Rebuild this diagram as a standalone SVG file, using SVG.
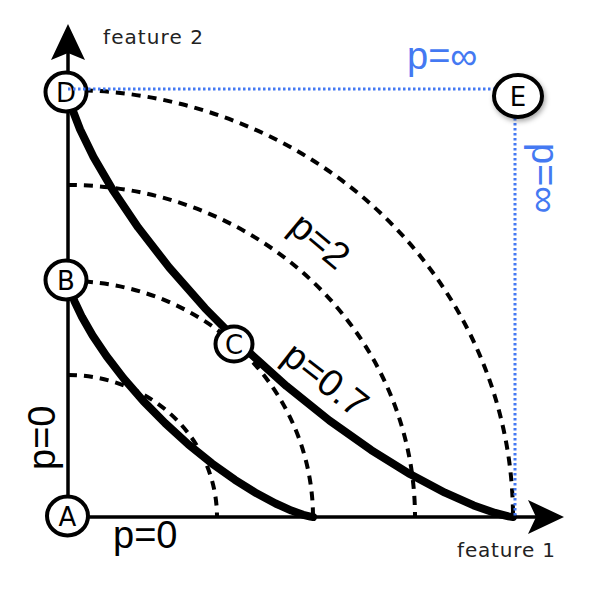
<svg xmlns="http://www.w3.org/2000/svg" width="600" height="598" viewBox="0 0 600 598">
  <defs>
    <filter id="shadow" x="-50%" y="-50%" width="200%" height="200%">
      <feDropShadow dx="1.5" dy="2.5" stdDeviation="2.5" flood-color="#000" flood-opacity="0.35"/>
    </filter>
  </defs>
  <style>
    .axis { stroke: #000; stroke-width: 3.5; fill: none; }
    .arrow { fill: #000; stroke: none; }
    .dash { stroke: #000; stroke-width: 4; fill: none; stroke-dasharray: 9 7; }
    .thick { stroke: #000; stroke-width: 8; fill: none; stroke-linejoin: round; stroke-linecap: round; }
    .blue { stroke: #4479f2; stroke-width: 3; fill: none; stroke-dasharray: 2.5 2.5; }
    .node { fill: #fff; stroke: #000; stroke-width: 4; }
    .nlabel { font-family: "DejaVu Sans", sans-serif; font-size: 26px; fill: #000; text-anchor: middle; }
    .plabel { font-family: "Liberation Sans", Arial, sans-serif; font-size: 38px; fill: #000; }
    .pblue { font-family: "Liberation Sans", Arial, sans-serif; font-size: 38px; fill: #4479f2; }
    .feat { font-family: "DejaVu Sans", sans-serif; font-size: 20px; fill: #222; }
  </style>

  <g id="connectors">
    <line class="axis" x1="68" y1="517" x2="68" y2="52"/>
    <line class="axis" x1="68" y1="517" x2="540" y2="517"/>
    <path class="arrow" d="M68,24 L85,60 L68,53 L51,60 Z"/>
    <path class="arrow" d="M564,517 L528,500 L536,517 L528,534 Z"/>
    <path class="dash" d="M68,375 A149,142 0 0 1 217,517"/>
    <path class="dash" d="M68,281 A245,236 0 0 1 313,517"/>
    <path class="dash" d="M68,185 A347,332 0 0 1 415,517"/>
    <path class="dash" d="M68,90 A445,427 0 0 1 513,517"/>
    <path class="thick" d="M68,92 L68.7,96.3 L72.2,109 L80.1,129.5 L93.5,157 L112.8,190.1 L138.1,227.4 L169.1,267.4 L205,308.2 L244.6,348.3 L286.6,386.2 L329.4,420.5 L371.2,450.1 L410.3,474.3 L445,492.7 L473.7,505.4 L495.2,513 L508.5,516.4 L513,517"/>
    <path class="thick" d="M68,281 L68.4,283.4 L70.3,290.4 L74.7,301.8 L82,317.1 L92.6,335.5 L106.6,356.2 L123.6,378.4 L143.4,401.1 L165.2,423.3 L188.3,444.4 L211.9,463.4 L234.9,479.8 L256.5,493.3 L275.6,503.5 L291.4,510.6 L303.2,514.8 L310.5,516.6 L313,517"/>
  </g>

  <g id="node-A">
    <ellipse class="node" cx="67.5" cy="516" rx="20.5" ry="19.5"/>
    <text class="nlabel" x="67.5" y="525.5">A</text>
  </g>
  <g id="node-B">
    <ellipse class="node" cx="66" cy="280" rx="20.5" ry="19.5"/>
    <text class="nlabel" x="66" y="289.5">B</text>
  </g>
  <g id="node-C">
    <ellipse class="node" cx="234" cy="344" rx="18.5" ry="17.5"/>
    <text class="nlabel" x="234" y="353.5">C</text>
  </g>
  <g id="node-D">
    <ellipse class="node" cx="66" cy="92" rx="20.5" ry="19.5"/>
    <text class="nlabel" x="66" y="101.5">D</text>
  </g>

  <g id="blue-lines">
    <line class="blue" x1="68" y1="89" x2="494" y2="89"/>
    <line class="blue" x1="515" y1="118" x2="515" y2="518"/>
  </g>

  <g id="node-E">
    <ellipse class="node" cx="518" cy="96" rx="24" ry="21" stroke-width="5" filter="url(#shadow)"/>
    <text class="nlabel" x="518" y="106" font-size="28">E</text>
  </g>

  <g id="labels">
    <text class="feat" x="103" y="44" textLength="100">feature 2</text>
    <text class="feat" x="457" y="557" textLength="98">feature 1</text>
    <text class="pblue" x="407" y="69">p=∞</text>
    <text class="pblue" transform="translate(532,143) rotate(90)">p=∞</text>
    <text class="plabel" transform="translate(55,470) rotate(-90)">p=0</text>
    <text class="plabel" x="113" y="548">p=0</text>
    <text class="plabel" transform="translate(287,230) rotate(40)">p=2</text>
    <text class="plabel" transform="translate(280,360) rotate(38)">p=0.7</text>
  </g>
</svg>
